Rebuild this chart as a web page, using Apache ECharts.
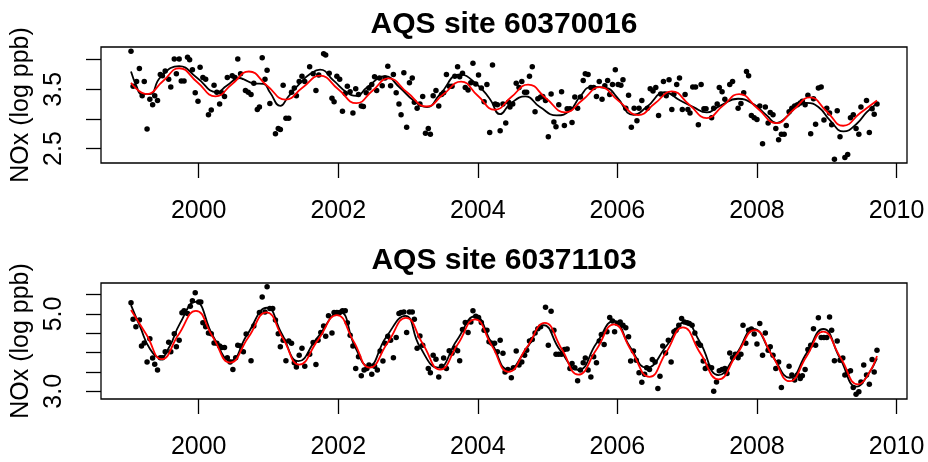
<!DOCTYPE html>
<html>
<head>
<meta charset="utf-8">
<title>AQS NOx</title>
<script src="https://cdn.jsdelivr.net/npm/echarts@6/dist/echarts.min.js"></script>
<style>
  html, body { margin: 0; padding: 0; background: #fff; }
  #chart { width: 928px; height: 462px; }
</style>
</head>
<body>
<div id="chart"></div>
<script>
// ---- data (decimal year, log ppb) ----
const xTicks = [2000, 2002, 2004, 2006, 2008, 2010];

const site1Title = "AQS site 60370016";
const site1YTicks = [2.5, 3.0, 3.5, 4.0];
const site1YLabels = [2.5, 3.5];
const site1Points = [
  [1999.03,4.14],[1999.06,3.55],[1999.11,3.63],[1999.15,3.85],[1999.19,3.39],[1999.22,3.63],[1999.26,2.83],[1999.30,3.33],
  [1999.34,3.24],[1999.37,3.39],[1999.41,3.31],[1999.45,3.75],[1999.48,3.73],[1999.52,3.81],[1999.57,3.67],[1999.60,3.54],
  [1999.65,4.01],[1999.68,3.76],[1999.72,4.01],[1999.75,3.64],[1999.79,3.64],[1999.84,4.04],[1999.87,4.00],[1999.91,3.83],
  [1999.95,3.44],[1999.99,3.30],[2000.02,3.87],[2000.06,3.70],[2000.10,3.67],[2000.14,3.07],[2000.18,3.15],[2000.22,3.57],
  [2000.26,3.45],[2000.30,3.25],[2000.33,3.44],[2000.37,3.38],[2000.41,3.70],[2000.48,3.73],[2000.52,3.70],[2000.56,4.01],
  [2000.60,3.76],[2000.67,3.48],[2000.71,3.45],[2000.75,3.41],[2000.79,3.60],[2000.84,3.16],[2000.87,3.20],[2000.91,4.03],
  [2000.95,3.67],[2000.98,3.82],[2001.02,3.26],[2001.10,2.75],[2001.14,2.84],[2001.17,2.82],[2001.21,3.57],[2001.25,3.01],
  [2001.29,3.01],[2001.33,3.45],[2001.37,3.52],[2001.40,3.39],[2001.44,3.63],[2001.48,3.72],[2001.52,3.63],[2001.59,3.88],
  [2001.64,3.76],[2001.68,3.48],[2001.72,3.74],[2001.79,4.10],[2001.82,4.08],[2001.87,3.77],[2001.91,3.35],[2001.94,3.29],
  [2001.98,3.72],[2002.02,3.67],[2002.06,3.13],[2002.10,3.43],[2002.13,3.55],[2002.17,3.46],[2002.21,3.10],[2002.25,3.51],
  [2002.29,3.41],[2002.33,3.22],[2002.36,3.21],[2002.40,3.44],[2002.44,3.52],[2002.48,3.58],[2002.52,3.71],[2002.55,3.48],
  [2002.59,3.69],[2002.63,3.56],[2002.67,3.69],[2002.71,3.89],[2002.75,3.56],[2002.79,3.75],[2002.83,3.44],[2002.87,3.25],
  [2002.90,3.07],[2002.94,3.78],[2002.98,2.86],[2003.02,3.61],[2003.06,3.69],[2003.09,3.28],[2003.13,3.18],[2003.17,3.25],
  [2003.21,3.38],[2003.25,2.76],[2003.29,2.84],[2003.32,2.74],[2003.36,3.39],[2003.40,3.48],[2003.44,3.22],[2003.48,3.41],
  [2003.51,3.44],[2003.55,3.75],[2003.59,3.55],[2003.63,3.55],[2003.67,3.72],[2003.71,3.88],[2003.74,3.71],[2003.78,3.77],
  [2003.82,3.53],[2003.86,3.49],[2003.90,3.61],[2003.93,3.94],[2003.97,3.59],[2004.01,3.74],[2004.05,3.52],[2004.09,3.29],
  [2004.13,3.58],[2004.17,2.77],[2004.21,3.91],[2004.25,3.25],[2004.28,3.24],[2004.32,2.80],[2004.36,3.25],[2004.40,2.93],
  [2004.44,3.28],[2004.46,3.20],[2004.50,3.25],[2004.55,3.60],[2004.59,3.53],[2004.63,3.63],[2004.67,3.45],[2004.70,3.45],
  [2004.74,3.72],[2004.78,3.88],[2004.82,3.12],[2004.86,3.34],[2004.90,3.37],[2004.93,3.38],[2004.97,3.31],[2005.01,2.70],
  [2005.05,3.42],[2005.09,2.95],[2005.12,2.87],[2005.16,3.24],[2005.20,3.46],[2005.24,2.89],[2005.28,3.17],[2005.32,3.17],
  [2005.35,2.94],[2005.39,3.37],[2005.43,3.18],[2005.47,3.37],[2005.51,3.65],[2005.54,3.76],[2005.58,3.75],[2005.62,3.53],
  [2005.66,3.53],[2005.70,3.38],[2005.74,3.63],[2005.78,3.33],[2005.82,3.56],[2005.86,3.65],[2005.89,3.41],[2005.93,3.58],
  [2005.97,3.83],[2006.01,3.58],[2006.05,3.57],[2006.08,3.66],[2006.12,3.18],[2006.16,3.40],[2006.20,2.86],[2006.24,3.18],
  [2006.28,2.97],[2006.31,3.18],[2006.35,3.31],[2006.43,3.18],[2006.47,3.51],[2006.51,3.47],[2006.55,3.53],[2006.59,3.06],
  [2006.62,3.42],[2006.66,3.63],[2006.70,3.39],[2006.74,3.66],[2006.78,3.16],[2006.81,3.42],[2006.85,3.58],[2006.89,3.69],
  [2006.93,3.16],[2006.97,3.41],[2007.01,3.16],[2007.04,3.10],[2007.08,3.54],[2007.12,3.54],[2007.16,2.90],[2007.20,3.58],
  [2007.24,3.17],[2007.27,3.17],[2007.35,3.02],[2007.38,3.18],[2007.43,3.25],[2007.46,3.53],[2007.50,3.46],[2007.54,3.33],
  [2007.61,3.58],[2007.65,3.63],[2007.73,3.18],[2007.77,3.26],[2007.81,3.44],[2007.85,3.80],[2007.88,3.73],[2007.92,3.06],
  [2007.96,3.02],[2008.00,2.99],[2008.04,3.22],[2008.08,2.58],[2008.12,3.20],[2008.16,2.93],[2008.19,3.11],[2008.23,3.07],
  [2008.27,2.84],[2008.31,2.65],[2008.35,2.74],[2008.39,2.74],[2008.42,2.89],[2008.46,3.12],[2008.50,3.18],[2008.54,3.22],
  [2008.58,3.24],[2008.62,3.27],[2008.65,3.30],[2008.69,3.24],[2008.73,3.40],[2008.77,2.75],[2008.81,3.34],[2008.84,2.91],
  [2008.88,3.52],[2008.92,3.54],[2008.96,2.98],[2009.00,3.18],[2009.04,3.10],[2009.07,2.90],[2009.11,2.32],[2009.15,3.14],
  [2009.19,2.70],[2009.26,2.35],[2009.30,2.40],[2009.34,3.02],[2009.38,3.07],[2009.42,2.84],[2009.46,2.74],[2009.49,3.20],
  [2009.57,3.31],[2009.61,2.77],[2009.65,3.17],[2009.68,3.08],[2009.72,3.25]
];
// black smooth
const site1Smooth = [
  [1999.03,3.80],[1999.11,3.55],[1999.18,3.42],[1999.30,3.42],[1999.45,3.70],[1999.72,3.89],[1999.97,3.70],[2000.26,3.45],
  [2000.40,3.56],[2000.59,3.69],[2000.64,3.67],[2000.79,3.60],[2000.93,3.59],[2001.02,3.45],[2001.17,3.22],[2001.28,3.37],
  [2001.45,3.60],[2001.60,3.76],[2001.74,3.83],[2001.93,3.65],[2002.12,3.45],[2002.26,3.39],[2002.41,3.53],[2002.67,3.72],
  [2002.88,3.53],[2003.08,3.31],[2003.27,3.20],[2003.46,3.42],[2003.74,3.75],[2003.98,3.59],[2004.17,3.34],[2004.32,3.08],
  [2004.46,3.25],[2004.68,3.38],[2004.89,3.20],[2005.13,3.06],[2005.32,3.14],[2005.46,3.37],[2005.63,3.54],[2005.85,3.52],
  [2005.99,3.37],[2006.23,3.07],[2006.42,3.20],[2006.68,3.45],[2006.90,3.31],[2007.09,3.20],[2007.28,3.11],[2007.47,3.22],
  [2007.73,3.34],[2007.95,3.25],[2008.14,3.06],[2008.28,2.93],[2008.42,3.03],[2008.62,3.25],[2008.71,3.27],[2008.88,3.20],
  [2009.05,2.97],[2009.24,2.79],[2009.43,2.92],[2009.57,3.11],[2009.72,3.26]
];
// red seasonal fit
const site1Fit = [
  [1999.03,3.61],[1999.255,3.42],[1999.49,3.64],[1999.72,3.855],[1999.98,3.62],[2000.24,3.38],[2000.48,3.59],[2000.72,3.80],
  [2000.98,3.56],[2001.245,3.325],[2001.49,3.53],[2001.74,3.73],[2002.00,3.50],[2002.26,3.265],[2002.49,3.475],[2002.72,3.685],
  [2002.99,3.445],[2003.265,3.21],[2003.51,3.42],[2003.76,3.63],[2004.00,3.39],[2004.245,3.155],[2004.48,3.37],[2004.72,3.58],
  [2004.98,3.345],[2005.25,3.11],[2005.50,3.32],[2005.75,3.535],[2006.02,3.30],[2006.30,3.065],[2006.54,3.265],[2006.78,3.465],
  [2007.03,3.24],[2007.28,3.015],[2007.51,3.22],[2007.745,3.42],[2008.01,3.175],[2008.28,2.93],[2008.52,3.15],[2008.76,3.365],
  [2009.00,3.125],[2009.235,2.885],[2009.48,3.10],[2009.72,3.31]
];

const site2Title = "AQS site 60371103";
const site2YTicks = [3.0, 3.5, 4.0, 4.5, 5.0, 5.5];
const site2YLabels = [3.0, 5.0];
const site2Points = [
  [1999.03,5.29],[1999.06,4.86],[1999.10,4.67],[1999.15,4.84],[1999.18,4.17],[1999.22,4.25],[1999.26,3.76],[1999.30,4.36],
  [1999.34,3.86],[1999.37,3.70],[1999.41,3.55],[1999.45,3.87],[1999.48,3.87],[1999.52,4.02],[1999.57,4.27],[1999.60,4.02],
  [1999.65,4.49],[1999.68,4.15],[1999.72,4.32],[1999.76,5.03],[1999.79,5.08],[1999.84,5.01],[1999.88,5.20],[1999.91,5.34],
  [1999.95,5.55],[2000.00,5.31],[2000.03,5.31],[2000.06,4.77],[2000.10,4.67],[2000.14,4.51],[2000.18,4.49],[2000.22,4.25],
  [2000.26,4.24],[2000.30,4.17],[2000.33,4.13],[2000.37,4.13],[2000.41,3.87],[2000.45,3.76],[2000.49,3.56],[2000.53,3.87],
  [2000.56,4.19],[2000.60,4.17],[2000.64,4.02],[2000.68,4.48],[2000.75,3.79],[2000.79,4.69],[2000.87,5.04],[2000.91,5.44],
  [2000.95,5.05],[2000.98,5.70],[2001.02,5.14],[2001.06,5.14],[2001.10,4.84],[2001.14,4.49],[2001.17,4.15],[2001.21,4.32],
  [2001.25,3.79],[2001.29,4.30],[2001.33,4.24],[2001.37,3.74],[2001.40,3.63],[2001.44,3.93],[2001.48,4.11],[2001.52,3.65],
  [2001.59,3.96],[2001.64,4.26],[2001.68,3.69],[2001.71,4.32],[2001.75,4.52],[2001.79,4.69],[2001.82,4.42],[2001.86,4.95],
  [2001.91,4.51],[2001.94,5.04],[2001.98,5.04],[2002.02,5.04],[2002.06,5.08],[2002.10,5.08],[2002.13,4.77],[2002.17,4.45],
  [2002.21,4.17],[2002.25,3.59],[2002.29,3.89],[2002.33,3.40],[2002.37,3.55],[2002.41,3.59],[2002.44,3.68],[2002.48,3.44],
  [2002.52,3.65],[2002.56,3.55],[2002.60,4.04],[2002.64,3.78],[2002.67,4.24],[2002.71,4.42],[2002.75,4.32],[2002.79,3.87],
  [2002.83,4.39],[2002.87,5.01],[2002.90,5.04],[2002.94,5.05],[2002.98,4.52],[2003.02,5.05],[2003.06,5.05],[2003.09,4.86],
  [2003.13,4.11],[2003.17,4.43],[2003.21,4.19],[2003.29,3.59],[2003.32,3.48],[2003.36,3.93],[2003.40,3.83],[2003.44,3.37],
  [2003.48,3.65],[2003.51,3.86],[2003.55,3.59],[2003.59,4.05],[2003.63,3.98],[2003.67,4.11],[2003.71,4.05],[2003.74,3.79],
  [2003.78,4.60],[2003.82,4.78],[2003.86,4.52],[2003.90,4.79],[2003.93,5.08],[2003.97,4.94],[2004.01,4.91],[2004.05,4.78],
  [2004.09,4.58],[2004.13,4.58],[2004.16,4.28],[2004.20,4.24],[2004.24,4.24],[2004.28,4.02],[2004.32,4.32],[2004.36,3.98],
  [2004.39,3.50],[2004.43,3.56],[2004.48,3.35],[2004.51,3.61],[2004.55,4.04],[2004.59,3.68],[2004.63,3.76],[2004.67,3.93],
  [2004.70,4.06],[2004.74,4.30],[2004.78,4.34],[2004.82,4.51],[2004.86,4.62],[2004.90,4.67],[2004.97,5.17],[2005.01,4.19],
  [2005.05,5.07],[2005.09,4.58],[2005.12,3.96],[2005.16,3.96],[2005.20,3.96],[2005.24,4.08],[2005.28,4.09],[2005.32,3.59],
  [2005.35,3.72],[2005.39,3.61],[2005.43,3.27],[2005.47,3.55],[2005.51,3.74],[2005.54,3.86],[2005.58,3.55],[2005.62,3.37],
  [2005.66,3.89],[2005.70,3.74],[2005.74,4.30],[2005.77,4.47],[2005.81,4.21],[2005.85,4.54],[2005.89,4.91],[2005.93,4.82],
  [2005.96,4.54],[2006.00,4.75],[2006.04,4.79],[2006.08,4.71],[2006.12,4.64],[2006.16,4.41],[2006.19,3.78],[2006.23,4.04],
  [2006.27,3.80],[2006.31,3.48],[2006.35,3.23],[2006.39,3.44],[2006.42,3.61],[2006.46,3.56],[2006.50,3.82],[2006.54,3.76],
  [2006.58,3.07],[2006.61,3.39],[2006.65,4.17],[2006.69,3.99],[2006.73,4.32],[2006.77,3.76],[2006.81,4.54],[2006.84,4.58],
  [2006.88,4.71],[2006.92,4.88],[2006.96,4.79],[2007.00,4.77],[2007.03,4.75],[2007.07,4.71],[2007.11,4.51],[2007.15,4.24],
  [2007.19,4.19],[2007.23,3.78],[2007.26,3.59],[2007.30,3.65],[2007.35,3.61],[2007.38,3.00],[2007.42,3.24],[2007.46,3.53],
  [2007.50,3.56],[2007.54,3.59],[2007.57,3.46],[2007.61,3.99],[2007.65,3.87],[2007.69,3.96],[2007.73,3.87],[2007.77,3.96],
  [2007.80,4.71],[2007.84,4.24],[2007.88,4.58],[2007.92,4.61],[2007.96,4.48],[2008.00,4.22],[2008.04,4.75],[2008.08,3.93],
  [2008.12,4.51],[2008.16,4.06],[2008.19,4.15],[2008.23,3.93],[2008.27,3.59],[2008.31,3.76],[2008.35,3.10],[2008.46,3.65],
  [2008.50,3.42],[2008.54,3.29],[2008.58,3.42],[2008.62,3.33],[2008.65,3.40],[2008.69,3.56],[2008.73,4.08],[2008.77,4.19],
  [2008.81,4.62],[2008.84,4.19],[2008.88,4.90],[2008.92,4.39],[2008.96,4.39],[2009.00,4.39],[2009.04,4.92],[2009.07,4.58],
  [2009.11,3.79],[2009.15,4.30],[2009.19,3.80],[2009.23,3.86],[2009.26,3.42],[2009.30,3.50],[2009.34,3.53],[2009.38,3.10],
  [2009.42,2.92],[2009.46,2.99],[2009.49,3.24],[2009.53,3.68],[2009.57,3.42],[2009.61,3.18],[2009.65,3.82],[2009.68,3.50],
  [2009.72,4.06]
];
const site2Smooth = [
  [1999.03,5.23],[1999.16,4.67],[1999.30,4.10],[1999.45,3.87],[1999.58,4.15],[1999.73,4.75],[1999.95,5.31],[2000.21,4.41],
  [2000.46,3.79],[2000.69,4.45],[2000.98,5.16],[2001.19,4.49],[2001.43,3.78],[2001.69,4.36],[2002.02,5.05],[2002.24,4.15],
  [2002.43,3.65],[2002.69,4.41],[2002.96,4.95],[2003.17,4.15],[2003.43,3.61],[2003.70,4.32],[2003.96,4.94],[2004.20,4.24],
  [2004.44,3.56],[2004.70,4.11],[2004.94,4.71],[2005.18,4.06],[2005.44,3.55],[2005.70,4.24],[2005.95,4.82],[2006.18,4.15],
  [2006.42,3.61],[2006.71,4.19],[2006.97,4.79],[2007.18,4.28],[2007.45,3.42],[2007.71,3.98],[2007.95,4.61],[2008.23,3.89],
  [2008.47,3.35],[2008.71,3.98],[2008.95,4.61],[2009.19,3.85],[2009.43,3.12],[2009.57,3.37],[2009.72,3.85]
];
const site2Fit = [
  [1999.03,5.10],[1999.25,4.47],[1999.47,3.83],[1999.71,4.46],[1999.96,5.08],[2000.20,4.41],[2000.45,3.74],[2000.71,4.39],
  [2000.97,5.04],[2001.21,4.36],[2001.44,3.69],[2001.71,4.33],[2001.98,4.97],[2002.22,4.29],[2002.45,3.61],[2002.71,4.26],
  [2002.97,4.90],[2003.21,4.23],[2003.46,3.56],[2003.71,4.21],[2003.96,4.86],[2004.20,4.18],[2004.44,3.50],[2004.70,4.13],
  [2004.96,4.77],[2005.20,4.10],[2005.44,3.43],[2005.70,4.08],[2005.95,4.73],[2006.20,4.05],[2006.46,3.37],[2006.70,4.01],
  [2006.94,4.65],[2007.19,3.98],[2007.45,3.31],[2007.71,3.95],[2007.97,4.58],[2008.22,3.92],[2008.47,3.26],[2008.71,3.90],
  [2008.95,4.54],[2009.20,3.86],[2009.45,3.18],[2009.60,3.45],[2009.72,3.91]
];

// ---- layout ----
const FONT = '"Liberation Sans", Arial, Helvetica, sans-serif';
const xMin = 1998.6;
const xMax = 2010.15;

const panels = [
  { title: site1Title, points: site1Points, smooth: site1Smooth, fit: site1Fit,
    yTicks: site1YTicks, yLabels: site1YLabels, yMin: 2.257, yMax: 4.213, top: 47 },
  { title: site2Title, points: site2Points, smooth: site2Smooth, fit: site2Fit,
    yTicks: site2YTicks, yLabels: site2YLabels, yMin: 2.80, yMax: 5.80, top: 283 }
];

const grids = [], xAxes = [], yAxes = [], series = [], titles = [];

panels.forEach((p, i) => {
  grids.push({
    left: 101, width: 806, top: p.top, height: 116,
    show: true, borderColor: "#000", borderWidth: 1.3, backgroundColor: "transparent"
  });

  xAxes.push({
    type: "value", gridIndex: i, min: xMin, max: xMax,
    axisLine: { show: false },
    splitLine: { show: false },
    axisTick: { show: true, length: 15, customValues: xTicks, lineStyle: { color: "#000", width: 1.3 } },
    axisLabel: {
      customValues: xTicks, margin: 36, fontSize: 25, color: "#000", fontFamily: FONT,
      formatter: (v) => String(Math.round(v))
    }
  });

  yAxes.push({
    type: "value", gridIndex: i, min: p.yMin, max: p.yMax,
    axisLine: { show: false },
    splitLine: { show: false },
    axisTick: { show: true, length: 15, customValues: p.yTicks, lineStyle: { color: "#000", width: 1.3 } },
    axisLabel: {
      customValues: p.yLabels, rotate: 90, margin: 34, fontSize: 25, color: "#000", fontFamily: FONT,
      formatter: (v) => v.toFixed(1)
    },
    name: "NOx (log ppb)", nameLocation: "middle", nameGap: 57,
    nameTextStyle: { fontSize: 25, color: "#000", fontFamily: FONT }
  });

  series.push({
    type: "scatter", xAxisIndex: i, yAxisIndex: i, data: p.points,
    symbol: "circle", symbolSize: 5.5, itemStyle: { color: "#000", opacity: 1 }, silent: true
  });
  series.push({
    type: "line", xAxisIndex: i, yAxisIndex: i, data: p.smooth,
    smooth: true, showSymbol: false, silent: true,
    lineStyle: { color: "#000", width: 1.8 }
  });
  series.push({
    type: "line", xAxisIndex: i, yAxisIndex: i, data: p.fit,
    smooth: true, showSymbol: false, silent: true,
    lineStyle: { color: "#ff0000", width: 1.8 }
  });

  titles.push({
    type: "text", x: 504, y: p.top - 22,
    style: {
      text: p.title, fill: "#000", align: "center", verticalAlign: "middle",
      font: "bold 30px " + FONT
    }
  });
});

const chart = echarts.init(document.getElementById("chart"), null, { renderer: "canvas" });
chart.setOption({
  animation: false,
  backgroundColor: "#fff",
  grid: grids,
  xAxis: xAxes,
  yAxis: yAxes,
  series: series,
  graphic: titles
});
</script>
</body>
</html>
